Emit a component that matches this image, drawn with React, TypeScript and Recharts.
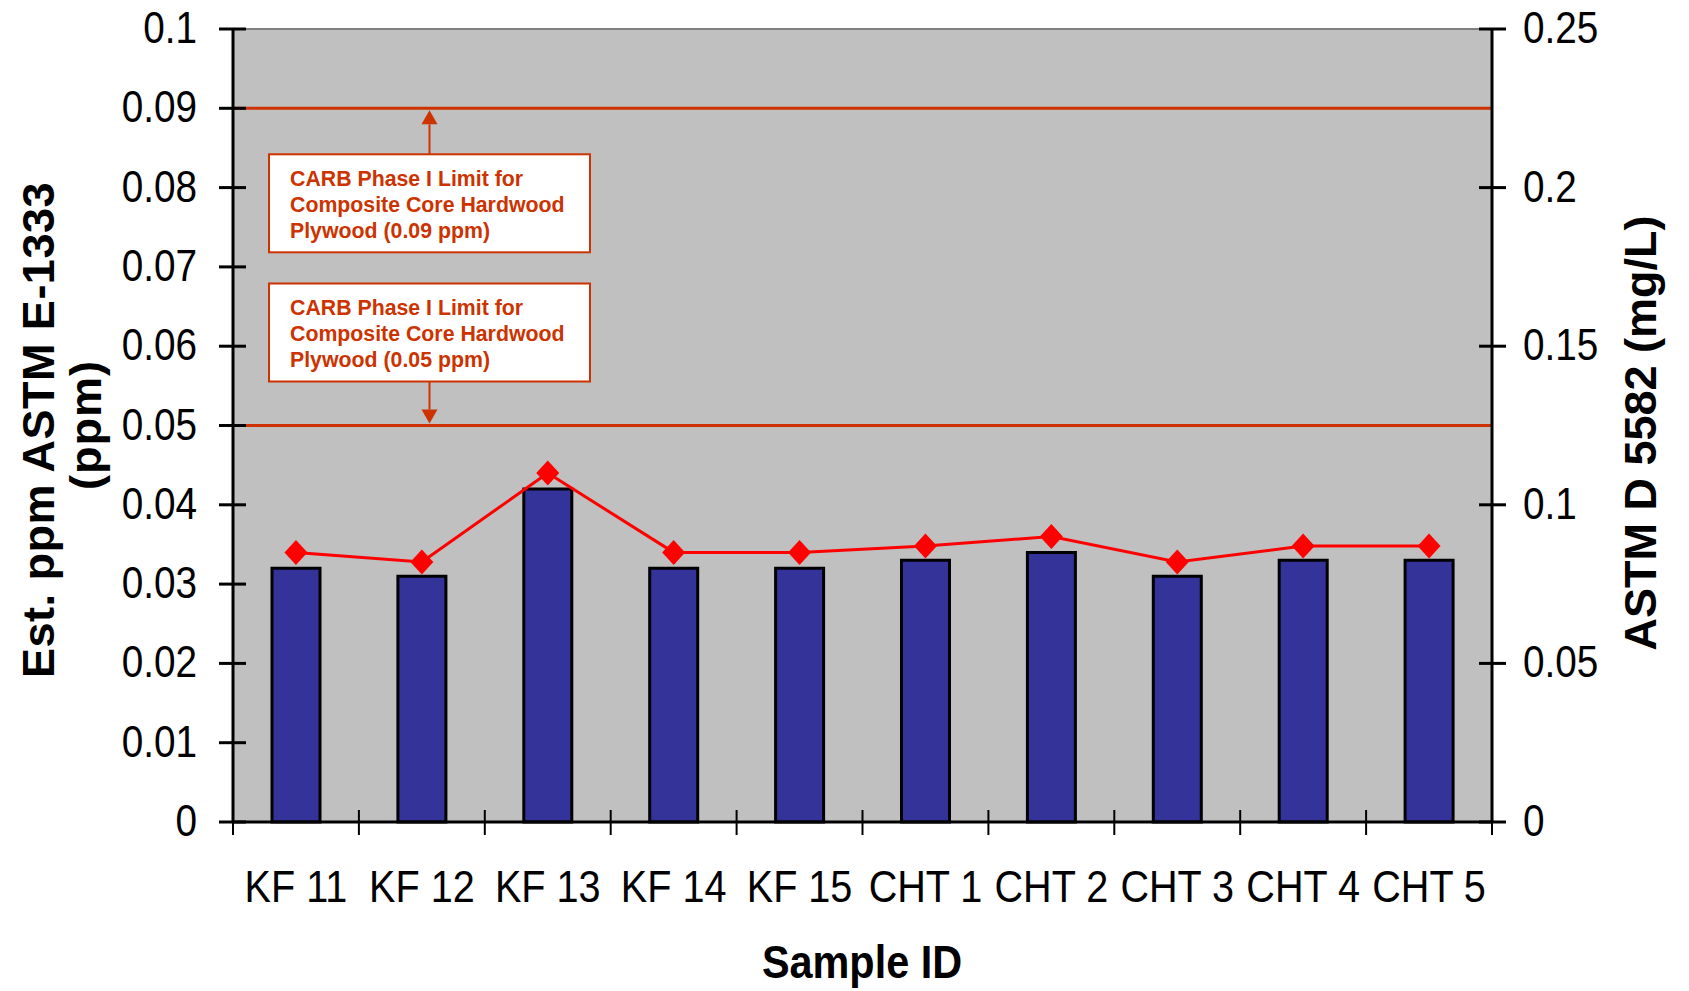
import React from 'react';
import {
  ComposedChart,
  Bar,
  Line,
  XAxis,
  YAxis,
  CartesianGrid,
  ReferenceLine,
} from 'recharts';

const categories = ['KF 11', 'KF 12', 'KF 13', 'KF 14', 'KF 15', 'CHT 1', 'CHT 2', 'CHT 3', 'CHT 4', 'CHT 5'];
const ppmValues = [0.032, 0.031, 0.042, 0.032, 0.032, 0.033, 0.034, 0.031, 0.033, 0.033];
const mgLValues = [0.085, 0.082, 0.11, 0.085, 0.085, 0.087, 0.09, 0.082, 0.087, 0.087];
const leftTicks = [0, 0.01, 0.02, 0.03, 0.04, 0.05, 0.06, 0.07, 0.08, 0.09, 0.1];
const rightTicks = [0, 0.05, 0.1, 0.15, 0.2, 0.25];
const limitValues = [0.09, 0.05];
const limitTexts = [
  ['CARB Phase I Limit for', 'Composite Core Hardwood', 'Plywood (0.09 ppm)'],
  ['CARB Phase I Limit for', 'Composite Core Hardwood', 'Plywood (0.05 ppm)'],
];

const data = categories.map((c, i) => ({ name: c, ppm: ppmValues[i], mgL: mgLValues[i] }));

const W = 1689;
const H = 991;
const MARGIN = { top: 29, right: 97, bottom: 69, left: 133 };
const AXIS_W = 100;
const XAXIS_H = 100;
const PLOT_W = W - MARGIN.left - MARGIN.right - 2 * AXIS_W;
const BAND = PLOT_W / categories.length;
const FONT = '"Liberation Sans", Arial, sans-serif';
const ANNOT = '#CC3300';

const LeftTick = (props: any) => {
  const { x, y, payload } = props;
  return (
    <g>
      <line x1={x - 14} x2={x + 13} y1={y} y2={y} stroke="#000" strokeWidth={3} />
      <text
        transform={`translate(${x - 36},${y + 14}) scale(0.88,1)`}
        textAnchor="end"
        fontFamily={FONT}
        fontSize={44}
        fill="#000"
      >
        {String(payload.value)}
      </text>
    </g>
  );
};

const RightTick = (props: any) => {
  const { x, y, payload } = props;
  return (
    <g>
      <line x1={x - 13} x2={x + 14} y1={y} y2={y} stroke="#000" strokeWidth={3} />
      <text
        transform={`translate(${x + 31},${y + 14}) scale(0.88,1)`}
        textAnchor="start"
        fontFamily={FONT}
        fontSize={44}
        fill="#000"
      >
        {String(payload.value)}
      </text>
    </g>
  );
};

const BottomTick = (props: any) => {
  const { x, y, payload, index } = props;
  const last = index === categories.length - 1;
  return (
    <g>
      <line x1={x - BAND / 2} x2={x - BAND / 2} y1={y - 12} y2={y + 13} stroke="#000" strokeWidth={2} />
      {last && (
        <line x1={x + BAND / 2} x2={x + BAND / 2} y1={y - 12} y2={y + 13} stroke="#000" strokeWidth={2} />
      )}
      <text
        transform={`translate(${x},${y + 80}) scale(0.9,1)`}
        textAnchor="middle"
        fontFamily={FONT}
        fontSize={44}
        fill="#000"
      >
        {payload.value}
      </text>
    </g>
  );
};

const Diamond = (p: any) => {
  const { cx, cy, index } = p;
  if (cx == null || cy == null) return <g key={`d${index}`} />;
  return (
    <path
      key={`d${index}`}
      d={`M${cx},${cy - 12.5}L${cx + 11.5},${cy}L${cx},${cy + 12.5}L${cx - 11.5},${cy}Z`}
      fill="#FF0000"
    />
  );
};

const Annotation = (props: any) => {
  const { viewBox, lines, below } = props;
  if (!viewBox) return null;
  const lineY = viewBox.y;
  const bx = viewBox.x + 36;
  const bw = 321;
  const bh = 98;
  const by = below ? lineY + 46 : lineY - 44 - bh;
  const ax = bx + bw / 2;
  const tipY = below ? lineY + 2 : lineY - 2;
  const baseY = below ? lineY + 16 : lineY - 16;
  const startY = below ? by : by + bh;
  return (
    <g>
      <line x1={ax} x2={ax} y1={startY} y2={baseY} stroke={ANNOT} strokeWidth={2} />
      <path d={`M${ax},${tipY}L${ax + 8},${baseY}L${ax - 8},${baseY}Z`} fill={ANNOT} />
      <rect x={bx} y={by} width={bw} height={bh} fill="#FFFFFF" stroke={ANNOT} strokeWidth={2} />
      {lines.map((t: string, i: number) => (
        <text
          key={i}
          x={bx + 21}
          y={by + 31.5 + i * 26}
          fontFamily={FONT}
          fontSize={21.3}
          fontWeight="bold"
          fill={ANNOT}
        >
          {t}
        </text>
      ))}
    </g>
  );
};

const LeftTitle = () => (
  <g>
    <text
      transform="translate(54,430) rotate(-90)"
      textAnchor="middle"
      fontFamily={FONT}
      fontSize={45}
      fontWeight="bold"
      letterSpacing={0.5}
      fill="#000"
    >
      Est. ppm ASTM E-1333
    </text>
    <text
      transform="translate(101,425) rotate(-90)"
      textAnchor="middle"
      fontFamily={FONT}
      fontSize={45}
      fontWeight="bold"
      letterSpacing={1}
      fill="#000"
    >
      (ppm)
    </text>
  </g>
);

const RightTitle = () => (
  <text
    transform="translate(1656,433) rotate(-90)"
    textAnchor="middle"
    fontFamily={FONT}
    fontSize={45}
    fontWeight="bold"
    fill="#000"
  >
    ASTM D 5582 (mg/L)
  </text>
);

const BottomTitle = () => (
  <text
    transform="translate(862,978) scale(0.9,1)"
    textAnchor="middle"
    fontFamily={FONT}
    fontSize={46}
    fontWeight="bold"
    fill="#000"
  >
    Sample ID
  </text>
);

export default function App() {
  return (
    <div style={{ position: 'absolute', left: 0, top: 0, width: W, height: H, background: '#FFFFFF' }}>
      <ComposedChart width={W} height={H} data={data} margin={MARGIN}>
        <CartesianGrid yAxisId="left" fill="#C0C0C0" horizontal={false} vertical={false} />
        <XAxis
          dataKey="name"
          height={XAXIS_H}
          interval={0}
          tickSize={0}
          tickMargin={0}
          tickLine={false}
          axisLine={{ stroke: '#000', strokeWidth: 3 }}
          tick={<BottomTick />}
          label={<BottomTitle />}
        />
        <YAxis
          yAxisId="left"
          orientation="left"
          width={AXIS_W}
          domain={[0, 0.1]}
          ticks={leftTicks}
          interval={0}
          tickSize={0}
          tickMargin={0}
          tickLine={false}
          axisLine={{ stroke: '#000', strokeWidth: 3 }}
          tick={<LeftTick />}
          label={<LeftTitle />}
        />
        <YAxis
          yAxisId="right"
          orientation="right"
          width={AXIS_W}
          domain={[0, 0.25]}
          ticks={rightTicks}
          interval={0}
          tickSize={0}
          tickMargin={0}
          tickLine={false}
          axisLine={{ stroke: '#000', strokeWidth: 3 }}
          tick={<RightTick />}
          label={<RightTitle />}
        />
        <ReferenceLine yAxisId="left" y={0.1} stroke="#808080" strokeWidth={2} />
        <ReferenceLine
          yAxisId="left"
          y={limitValues[0]}
          stroke={ANNOT}
          strokeWidth={3}
          label={<Annotation lines={limitTexts[0]} below />}
        />
        <ReferenceLine
          yAxisId="left"
          y={limitValues[1]}
          stroke={ANNOT}
          strokeWidth={3}
          label={<Annotation lines={limitTexts[1]} below={false} />}
        />
        <Bar
          yAxisId="left"
          dataKey="ppm"
          fill="#333399"
          stroke="#000"
          strokeWidth={3}
          barSize={48}
          isAnimationActive={false}
        />
        <Line
          yAxisId="right"
          dataKey="mgL"
          stroke="#FF0000"
          strokeWidth={3}
          dot={Diamond}
          activeDot={false}
          isAnimationActive={false}
        />
      </ComposedChart>
    </div>
  );
}
